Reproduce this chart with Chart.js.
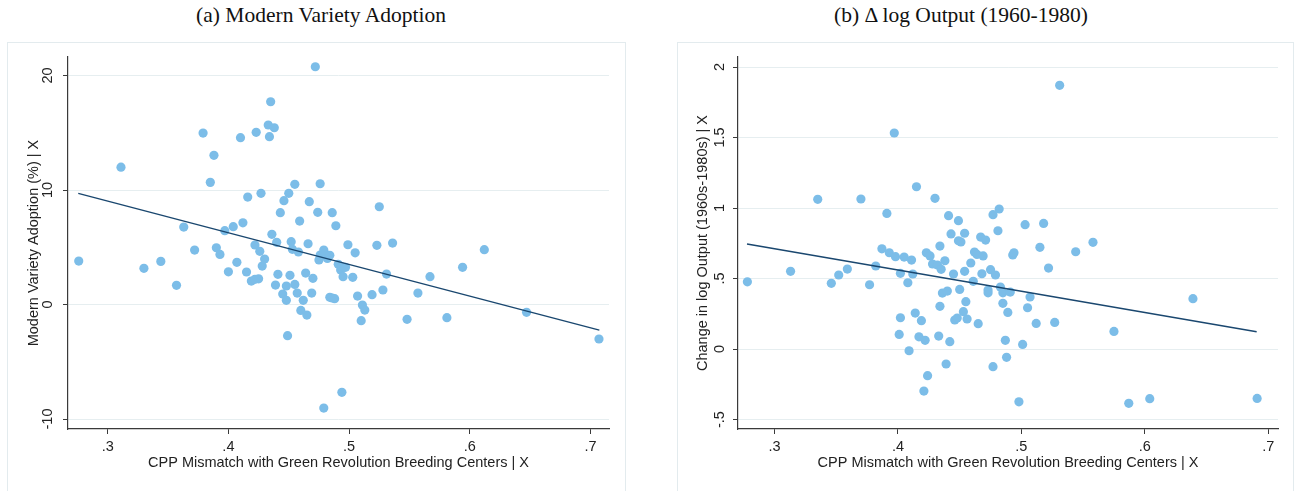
<!DOCTYPE html>
<html>
<head>
<meta charset="utf-8">
<script src="https://cdn.jsdelivr.net/npm/chart.js@4.4.1/dist/chart.umd.min.js"></script>
<style>
  html, body { margin: 0; padding: 0; background: #fff; }
  #wrap { position: relative; width: 1296px; height: 491px; overflow: hidden; }
  .title {
    position: absolute; top: 2px; width: 400px; height: 26px; line-height: 26px;
    text-align: center; font-family: "Liberation Serif", serif; font-size: 21.5px; color: #111;
  }
  .frame { position: absolute; top: 42px; height: 470px; border: 1px solid #e3ebee; }
  canvas { position: absolute; left: 0; top: 0; }
</style>
</head>
<body>
<div id="wrap">
  <div class="title" style="left:121px">(a) Modern Variety Adoption</div>
  <div class="title" style="left:761px">(b) Δ log Output (1960-1980)</div>
  <div class="frame" style="left:7px; width:617px"><canvas id="mv" width="617" height="446"></canvas></div>
  <div class="frame" style="left:677px; width:615px"><canvas id="out" width="615" height="446"></canvas></div>
</div>
<script>
// panel (a): CPP mismatch vs modern variety adoption (%)
const mvX = [0.276, 0.311, 0.330, 0.344, 0.357, 0.363, 0.372, 0.379, 0.385, 0.388,
  0.390, 0.393, 0.397, 0.400, 0.404, 0.407, 0.410, 0.412, 0.415, 0.416,
  0.419, 0.422, 0.422, 0.423, 0.425, 0.426, 0.427, 0.428, 0.430, 0.433,
  0.434, 0.435, 0.436, 0.438, 0.439, 0.440, 0.441, 0.443, 0.445, 0.446,
  0.448, 0.448, 0.449, 0.450, 0.451, 0.452, 0.453, 0.455, 0.455, 0.457,
  0.458, 0.459, 0.460, 0.462, 0.464, 0.465, 0.466, 0.467, 0.469, 0.470,
  0.472, 0.474, 0.475, 0.476, 0.476, 0.479, 0.479, 0.480, 0.482, 0.484,
  0.484, 0.486, 0.486, 0.488, 0.489, 0.491, 0.493, 0.494, 0.494, 0.495,
  0.497, 0.499, 0.503, 0.505, 0.507, 0.510, 0.511, 0.513, 0.519, 0.523,
  0.525, 0.528, 0.531, 0.536, 0.548, 0.557, 0.567, 0.581, 0.594, 0.612,
  0.647, 0.707];
const mvY = [3.80, 12.00, 3.16, 3.77, 1.68, 6.77, 4.76, 14.98, 10.67, 13.03,
  4.96, 4.38, 6.45, 2.86, 6.80, 3.69, 14.57, 7.14, 2.84, 9.39,
  2.05, 5.20, 2.20, 15.04, 2.25, 4.65, 9.71, 3.36, 3.97, 15.68,
  14.66, 17.71, 6.13, 15.44, 1.70, 5.43, 2.64, 8.02, 0.92, 9.07,
  0.37, 1.62, -2.72, 9.71, 2.55, 5.49, 4.82, 1.76, 10.50, 1.00,
  4.59, 7.29, -0.51, 0.37, 2.75, -0.92, 5.31, 8.98, 1.00, 2.29,
  20.77, 8.05, 3.89, 4.32, 10.55, -9.04, 4.76, 4.44, 4.03, 4.30,
  0.63, 8.02, 0.57, 0.51, 6.88, 3.51, 3.01, -7.67, 3.30, 2.43,
  3.25, 5.22, 2.38, 4.52, 0.74, -1.41, -0.04, -0.48, 0.86, 5.17,
  8.54, 1.27, 2.66, 5.37, -1.29, 1.00, 2.43, -1.15, 3.25, 4.79,
  -0.68, -3.01];
const mvFitX = [0.2756, 0.7073];
const mvFitY = [9.71, -2.23];
const mvTicksY = [-10, 0, 10, 20];

// panel (b): CPP mismatch vs change in log output
const outX = [0.278, 0.313, 0.335, 0.346, 0.352, 0.359, 0.370, 0.377, 0.382, 0.387,
  0.391, 0.393, 0.397, 0.398, 0.401, 0.402, 0.402, 0.405, 0.408, 0.409,
  0.411, 0.412, 0.414, 0.415, 0.417, 0.419, 0.421, 0.422, 0.423, 0.424,
  0.426, 0.428, 0.430, 0.432, 0.433, 0.434, 0.434, 0.435, 0.436, 0.438,
  0.439, 0.440, 0.441, 0.442, 0.443, 0.445, 0.446, 0.448, 0.449, 0.449,
  0.450, 0.451, 0.453, 0.454, 0.454, 0.455, 0.456, 0.459, 0.461, 0.462,
  0.464, 0.465, 0.467, 0.468, 0.469, 0.471, 0.473, 0.473, 0.475, 0.477,
  0.477, 0.479, 0.481, 0.482, 0.483, 0.485, 0.485, 0.487, 0.488, 0.489,
  0.491, 0.493, 0.494, 0.498, 0.501, 0.503, 0.505, 0.507, 0.512, 0.515,
  0.518, 0.522, 0.527, 0.531, 0.544, 0.558, 0.575, 0.587, 0.604, 0.639,
  0.691];
const outY = [0.477, 0.551, 1.062, 0.466, 0.525, 0.567, 1.064, 0.456, 0.589, 0.711,
  0.962, 0.683, 1.532, 0.655, 0.104, 0.537, 0.222, 0.652, 0.470, -0.012,
  0.631, 0.532, 0.255, 1.151, 0.087, 0.201, -0.298, 0.062, 0.683, -0.189,
  0.660, 0.603, 1.069, 0.596, 0.092, 0.730, 0.303, 0.565, 0.397, 0.626,
  -0.106, 0.411, 0.946, 0.052, 0.816, 0.532, 0.206, 0.220, 0.768, 0.910,
  0.423, 0.759, 0.265, 0.821, 0.551, 0.336, 0.213, 0.610, 0.480, 0.688,
  0.671, 0.180, 0.794, 0.534, 0.660, 0.773, 0.418, 0.399, 0.563, 0.953,
  -0.125, 0.525, 0.839, 0.993, 0.440, 0.399, 0.324, 0.062, -0.059, 0.260,
  0.404, 0.667, 0.683, -0.374, 0.033, 0.882, 0.293, 0.369, 0.182, 0.721,
  0.891, 0.574, 0.189, 1.870, 0.690, 0.757, 0.125, -0.385, -0.352, 0.357,
  -0.350];
const outFitX = [0.2777, 0.6906];
const outFitY = [0.745, 0.123];
const outTicksY = [-0.5, 0, 0.5, 1, 1.5, 2];

const ticksX = [0.3, 0.4, 0.5, 0.6, 0.7];

const DOT = '#7cbde8';
const FIT = '#1a476f';
const GRID = '#e6eef0';
const AXIS = '#3a3a3a';
const SANS = '"Liberation Sans", Arial, sans-serif';

// Stata-style labels: .5 instead of 0.5
const fmt = v => String(v).replace(/^(-?)0\./, '$1.');

const zip = (xs, ys) => xs.map((x, i) => ({ x: x, y: ys[i] }));

function panel(id, p) {
  return new Chart(document.getElementById(id), {
    type: 'scatter',
    data: {
      datasets: [{
        type: 'line',
        data: zip(p.fitX, p.fitY),
        borderColor: FIT,
        borderWidth: 1.4,
        pointRadius: 0,
        showLine: true,
        order: 0
      }, {
        data: zip(p.x, p.y),
        backgroundColor: DOT,
        borderWidth: 0,
        pointRadius: 4.6,
        order: 1
      }]
    },
    options: {
      responsive: false,
      animation: false,
      layout: { padding: { left: 0, right: p.padRight, top: 14, bottom: 0 } },
      plugins: { legend: { display: false }, tooltip: { enabled: false } },
      scales: {
        x: {
          type: 'linear',
          min: p.xMin,
          max: p.xMax,
          afterBuildTicks: s => { s.ticks = ticksX.map(v => ({ value: v })) },
          afterFit: s => { s.height = 60 },
          grid: { drawOnChartArea: false, tickLength: 5, tickColor: AXIS },
          border: { color: AXIS, width: 1.2 },
          ticks: { color: '#222', padding: 4, font: { family: SANS, size: 14.5 }, callback: fmt },
          title: {
            display: true, text: 'CPP Mismatch with Green Revolution Breeding Centers | X',
            color: '#222', font: { family: SANS, size: 14.5 }, padding: { bottom: 17.5 }
          }
        },
        y: {
          min: p.yMin,
          max: p.yMax,
          afterBuildTicks: s => { s.ticks = p.ticksY.map(v => ({ value: v })) },
          afterFit: s => { s.width = 60 },
          grid: { color: GRID, lineWidth: 1, tickLength: 5, tickColor: AXIS },
          border: { color: AXIS, width: 1.2 },
          ticks: {
            color: '#222', padding: p.tickPad, minRotation: 90, maxRotation: 90, crossAlign: 'center',
            font: { family: SANS, size: 14.5 }, callback: fmt
          },
          title: {
            display: true, text: p.yTitle,
            color: '#222', font: { family: SANS, size: 14.5 }, padding: { top: p.titlePad }
          }
        }
      }
    }
  });
}

panel('mv', {
  x: mvX, y: mvY, fitX: mvFitX, fitY: mvFitY, ticksY: mvTicksY,
  xMin: 0.2671, xMax: 0.7153, yMin: -10.87, yMax: 21.62,
  padRight: 16, tickPad: 5, titlePad: 17,
  yTitle: 'Modern Variety Adoption (%) | X'
});

panel('out', {
  x: outX, y: outY, fitX: outFitX, fitY: outFitY, ticksY: outTicksY,
  xMin: 0.2704, xMax: 0.7079, yMin: -0.567, yMax: 2.071,
  padRight: 15, tickPad: 3, titlePad: 16,
  yTitle: 'Change in log Output (1960s-1980s) | X'
});
</script>
</body>
</html>
